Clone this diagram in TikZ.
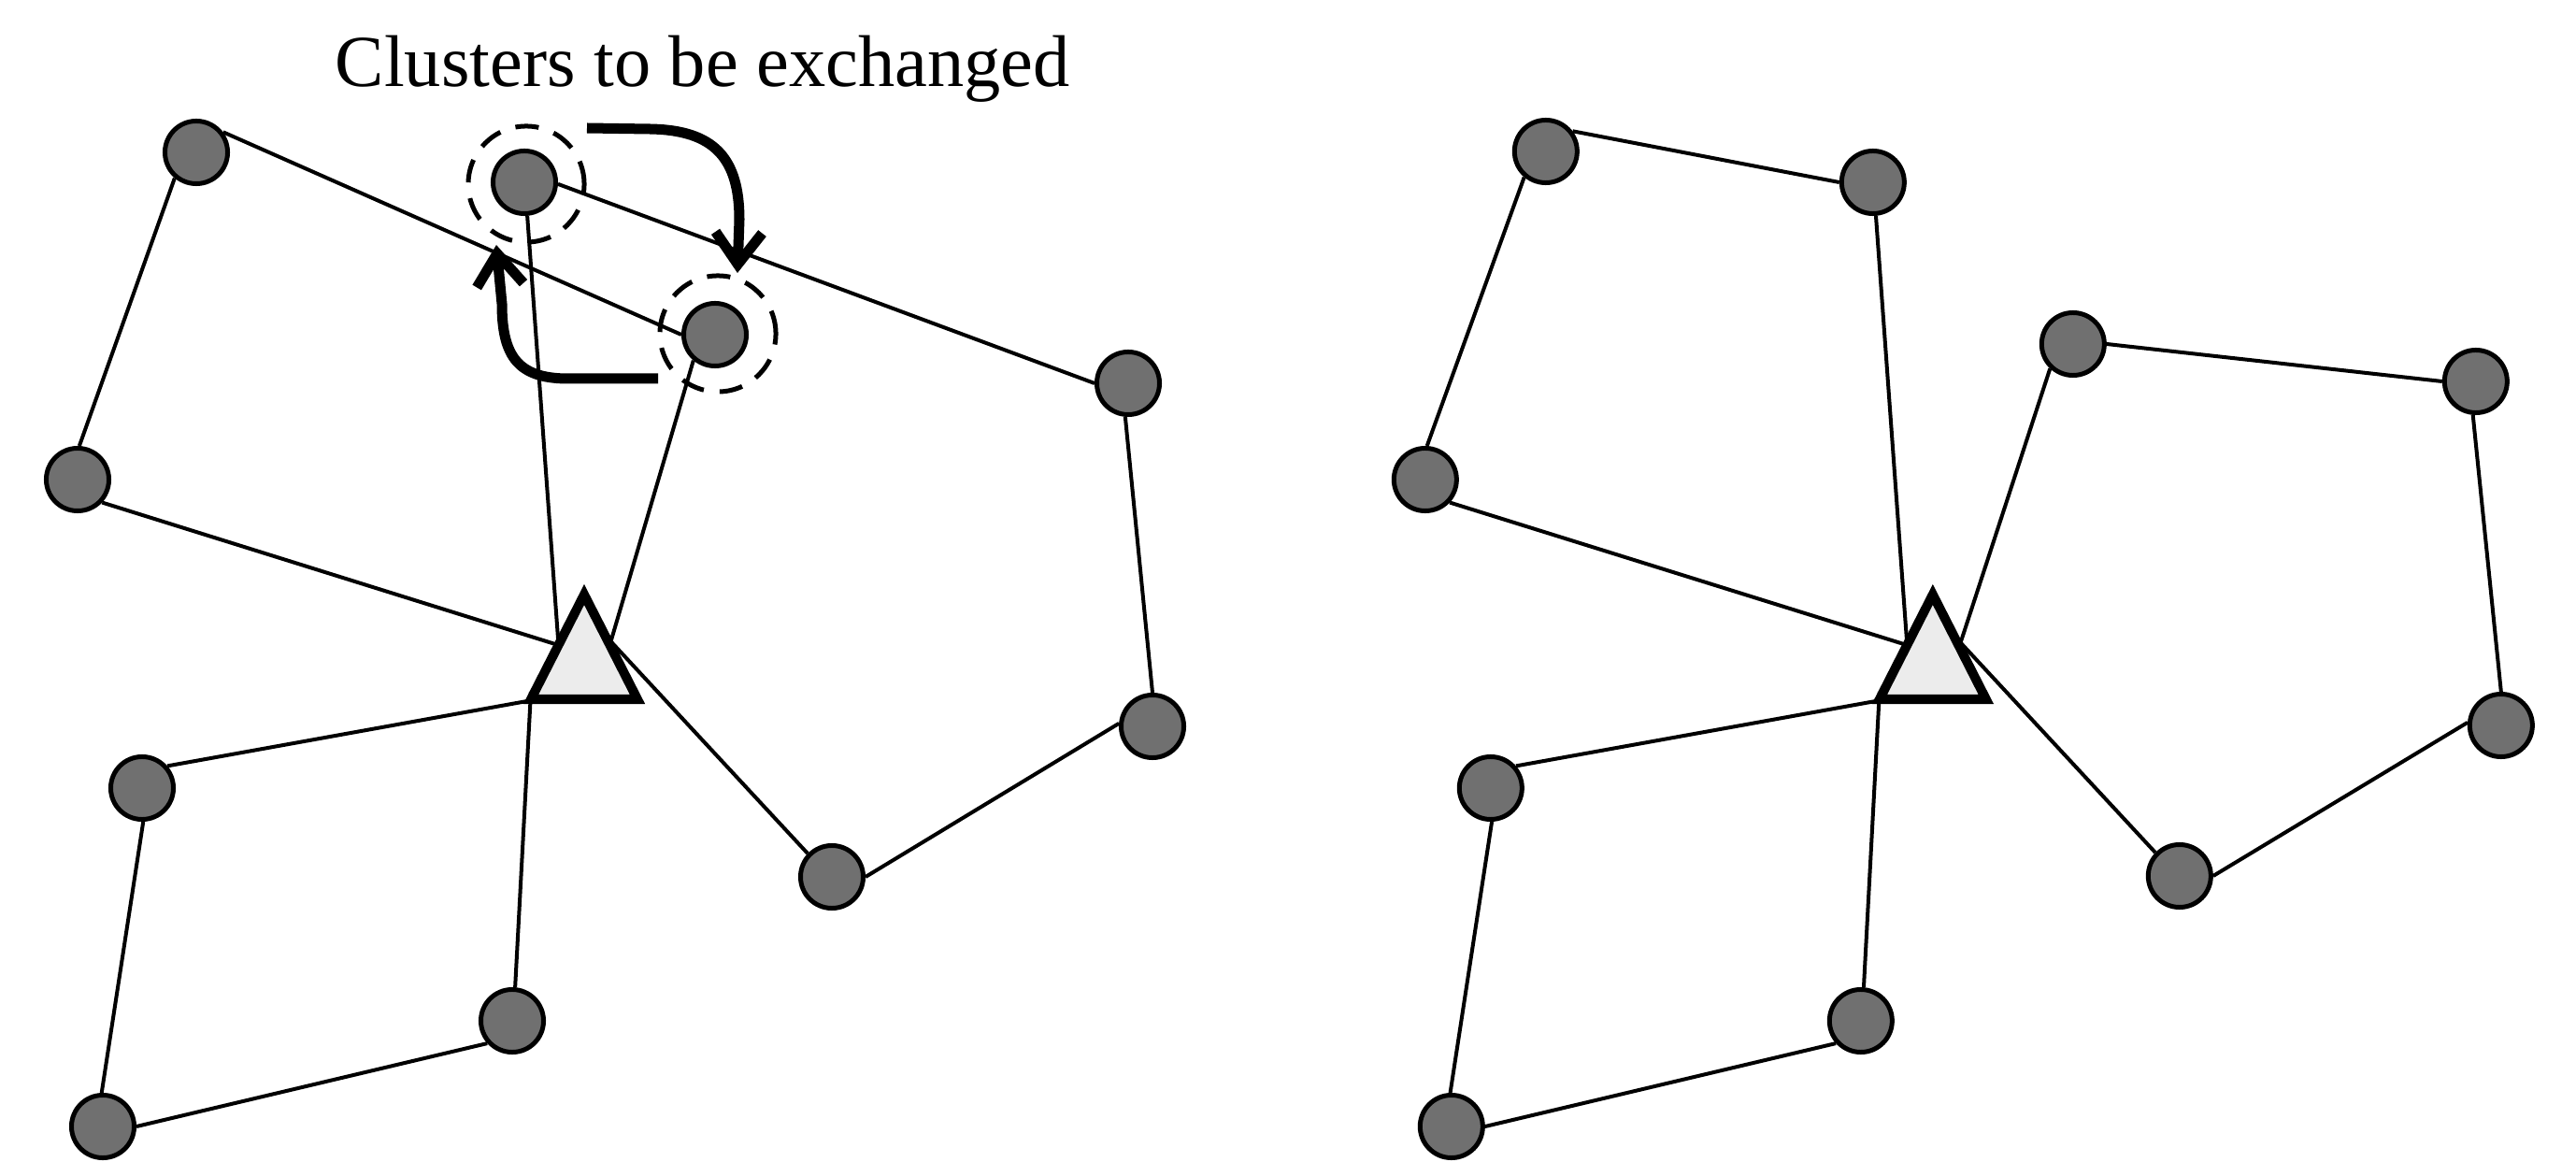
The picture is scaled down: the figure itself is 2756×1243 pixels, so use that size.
\documentclass[tikz,border=0pt]{standalone}
\usepackage{fontspec}
\setmainfont{Liberation Serif}
\usetikzlibrary{arrows.meta}
\definecolor{nodegray}{RGB}{112,112,112}
\definecolor{depotfill}{RGB}{236,236,236}
\begin{document}
\begin{tikzpicture}[x=0.01cm,y=-0.01cm,
  cust/.style={circle,draw=black,fill=nodegray,line width=0.05cm,minimum size=0.67cm,inner sep=0pt},
  edge/.style={line width=0.04cm},
  sel/.style={circle,draw=black,dash pattern=on 0.25cm off 0.17cm,line width=0.05cm,minimum size=1.24cm,inner sep=0pt},
  swap/.style={line width=0.11cm,-{Straight Barb[length=0.34cm,width=0.5cm]}},
  depot/.style={draw=black,fill=depotfill,line width=0.1cm}]
\useasboundingbox (0,0) rectangle (2756,1243);

% title
\node[anchor=base west,font=\fontsize{22.3pt}{27pt}\selectfont,inner sep=0pt] (title) at (358,93) {Clusters to be exchanged};

% ---------------- left diagram ----------------
\node[cust] (A1) at (210,163) {};
\node[cust] (A2) at (83,513) {};
\node[cust] (T) at (561,195) {};
\node[cust] (S) at (765,358) {};
\node[cust] (R2) at (1207,410) {};
\node[cust] (R3) at (1233,777) {};
\node[cust] (R1) at (890,938) {};
\node[cust] (B1) at (152,843) {};
\node[cust] (B2) at (548,1092) {};
\node[cust] (B3) at (110,1205) {};
\coordinate (pA) at (610,694);
\coordinate (pT) at (599,710);
\coordinate (pS) at (648,705);
\coordinate (pR) at (645,677);
\coordinate (pB1) at (575,748);
\coordinate (pB2) at (568,740);

\draw[edge] (A2.-43) -- (pA);
\draw[edge] (A2.87) -- (A1.230);
\draw[edge] (A1.37) -- (S.180);
\draw[edge] (S.230) -- (pS);
\draw[edge] (T.-85) -- (pT);
\draw[edge] (T.-3) -- (R2.180);
\draw[edge] (R2.-95) -- (R3.90);
\draw[edge] (R3.175) -- (R1.0);
\draw[edge] (R1.136) -- (pR);
\draw[edge] (B1.41) -- (pB1);
\draw[edge] (B1.-88) -- (B3.92);
\draw[edge] (B3.0) -- (B2.222);
\draw[edge] (B2.85) -- (pB2);
\draw[depot] (625,636) -- (682,748) -- (568,748) -- cycle;
\coordinate (D) at (625,710);

% exchanged clusters
\node[sel] (dT) at (563,197) {};
\node[sel] (dS) at (768,357) {};
\coordinate (a1s) at (628,137);
\coordinate (a1e) at (789,292);
\coordinate (a2s) at (704,405);
\coordinate (a2e) at (531,262);
\draw[swap] (a1s) -- (695,138) .. controls (765,139) and (791,170) .. (791,235) -- (a1e);
\draw[swap] (a2s) -- (605,405) .. controls (555,404) and (537,382) .. (537,325) -- (a2e);

% ---------------- right diagram ----------------
\begin{scope}[xshift=14.42cm]
\node[cust] (rA1) at (211,162) {};
\node[cust] (rA2) at (82,513) {};
\node[cust] (rT) at (561,195) {};
\node[cust] (rS) at (775,368) {};
\node[cust] (rR2) at (1206,408) {};
\node[cust] (rR3) at (1233,776) {};
\node[cust] (rR1) at (889,937) {};
\node[cust] (rB1) at (152,843) {};
\node[cust] (rB2) at (548,1092) {};
\node[cust] (rB3) at (110,1205) {};
\coordinate (rpA) at (610,694);
\coordinate (rpT) at (599,710);
\coordinate (rpS) at (649,705);
\coordinate (rpR) at (645,677);
\coordinate (rpB1) at (575,748);
\coordinate (rpB2) at (568,740);

\draw[edge] (rA2.-43) -- (rpA);
\draw[edge] (rA2.87) -- (rA1.230);
\draw[edge] (rA1.37) -- (rT.180);
\draw[edge] (rT.-85) -- (rpT);
\draw[edge] (rS.227) -- (rpS);
\draw[edge] (rS.0) -- (rR2.180);
\draw[edge] (rR2.-95) -- (rR3.90);
\draw[edge] (rR3.175) -- (rR1.0);
\draw[edge] (rR1.136) -- (rpR);
\draw[edge] (rB1.41) -- (rpB1);
\draw[edge] (rB1.-88) -- (rB3.92);
\draw[edge] (rB3.0) -- (rB2.222);
\draw[edge] (rB2.85) -- (rpB2);
\draw[depot] (625,636) -- (682,748) -- (568,748) -- cycle;
\coordinate (rD) at (625,710);
\end{scope}
\end{tikzpicture}
\end{document}
